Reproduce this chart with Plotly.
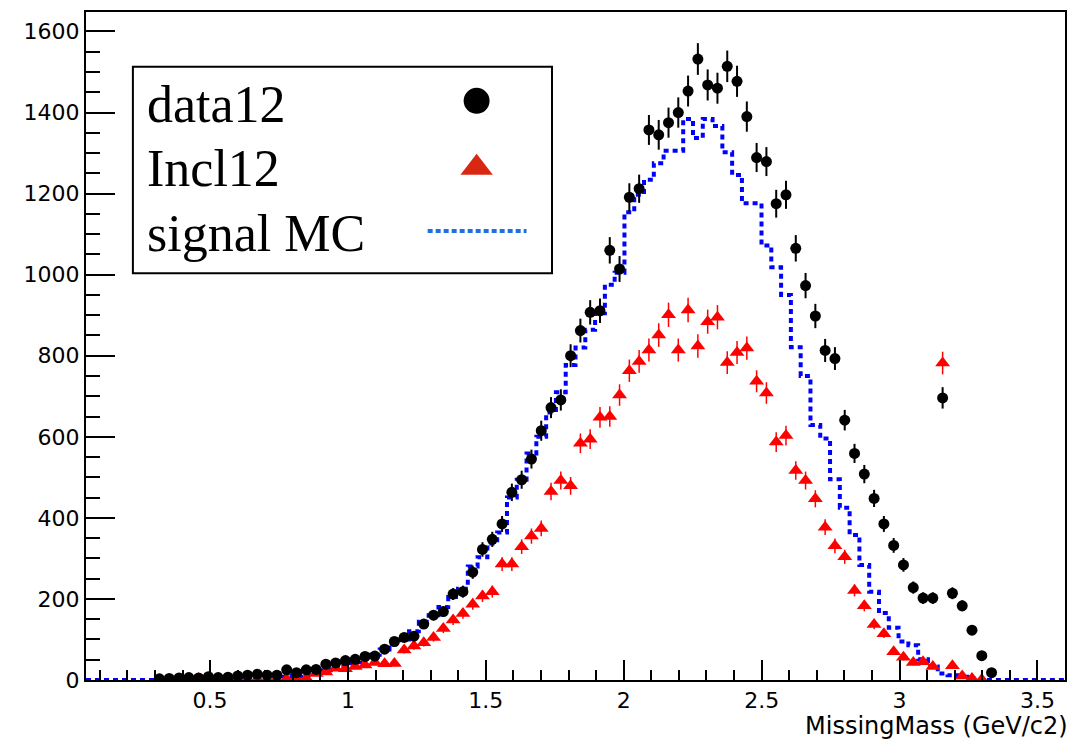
import numpy as np
import plotly.graph_objects as go

# Histogram binning: 100 bins over the missing-mass range
n_bins = 100
x_min, x_max = 0.05, 3.6
y_max = 1648

# data12 bin contents (None = empty bin)
data12 = [None] * 7 + [
    3, 4, 5, 6, 5, 8, 6, 7, 10, 12,            # 7-16
    14, 12, 12, 25, 18, 25, 26, 39, 42, 48,    # 17-26
    51, 58, 59, 76, 95, 105, 108, 138, 160, 169,   # 27-36
    212, 218, 266, 322, 347, 385, 463, 494, 545, 615,  # 37-46
    672, 691, 800, 862, 907, 911, 1060, 1014, 1191, 1212,  # 47-56
    1357, 1345, 1375, 1400, 1453, 1532, 1468, 1460, 1514, 1477,  # 57-66
    1390, 1289, 1279, 1175, 1197, 1065, 973, 898, 813, 793,  # 67-76
    641, 559, 508, 448, 385, 332, 284, 228, 202, 202,  # 77-86
    696, 214, 183, 123, 60, 18,                # 87-92
] + [None] * 7

# Incl12 bin contents
incl12 = [None] * 9 + [
    2, 3, 3, 3, 2, 1, 2, 2, 2, 2,              # 9-18
    2, 2, 3, 4, 16, 20, 29, 28, 33, 37,        # 19-28
    43, 40, 41, 74, 84, 92, 105, 127, 148, 164,  # 29-38
    187, 207, 218, 286, 286, 329, 355, 374, 465, 492,  # 39-48
    479, 584, 594, 648, 650, 703, 763, 786, 814, 851,  # 49-58
    901, 814, 913, 824, 884, 895, 783, 808, 819, 737,  # 59-68
    708, 587, 603, 517, 492, 447, 377, 331, 304, 221,  # 69-78
    183, 137, 114, 70, 56, 43, 45, 33, 782, 35,  # 79-88
    10, 4, 1,                                   # 89-91
] + [None] * 8

# signal MC bin contents
signal_mc = [0] * 15 + [
    1, 2, 3, 4, 5, 8, 10, 13, 18, 24,          # 15-24
    30, 36, 44, 52, 62, 75, 88, 100, 120, 144,  # 25-34
    160, 180, 205, 225, 280, 303, 337, 364, 450, 494,  # 35-44
    559, 600, 660, 710, 777, 820, 864, 905, 975, 1005,  # 45-54
    1154, 1197, 1234, 1275, 1306, 1306, 1384, 1337, 1384, 1367,  # 55-64
    1302, 1246, 1176, 1176, 1072, 1018, 950, 821, 750, 629,  # 65-74
    596, 495, 425, 358, 284, 218, 165, 129, 95, 86,  # 75-84
    51, 33, 16, 12, 8, 4,                       # 85-90
] + [0] * 9

x_tick_vals = [0.5, 1, 1.5, 2, 2.5, 3, 3.5]
x_tick_text = ["0.5", "1", "1.5", "2", "2.5", "3", "3.5"]
y_tick_vals = [0, 200, 400, 600, 800, 1000, 1200, 1400, 1600]
y_tick_text = [str(v) for v in y_tick_vals]

legend_labels = ["data12", "Incl12", "signal MC"]

edges = np.linspace(x_min, x_max, n_bins + 1)
centers = 0.5 * (edges[:-1] + edges[1:])


def poisson_err(vals):
    return [None if v is None else float(np.sqrt(v)) for v in vals]


fig = go.Figure()

# signal MC as a dotted step histogram
fig.add_trace(go.Scatter(
    x=edges, y=list(signal_mc) + [signal_mc[-1]],
    mode="lines", line=dict(color="#0000ff", width=4, dash="5px,4px", shape="hv"),
    hoverinfo="skip", showlegend=False,
))

# Incl12 triangles with error bars
fig.add_trace(go.Scatter(
    x=centers, y=incl12, mode="markers",
    marker=dict(symbol="triangle-up", size=13, color="#ff0000"),
    error_y=dict(type="data", array=poisson_err(incl12), color="#ff0000",
                 thickness=1.5, width=0),
    showlegend=False,
))

# data12 points with error bars
fig.add_trace(go.Scatter(
    x=centers, y=data12, mode="markers",
    marker=dict(symbol="circle", size=11, color="black"),
    error_y=dict(type="data", array=poisson_err(data12), color="black",
                 thickness=2, width=0),
    showlegend=False,
))

# Legend symbols on an overlay axis spanning the frame (0..1 both ways)
leg_x = [0.399, 0.399]
leg_y = [0.867, 0.767]
fig.add_trace(go.Scatter(
    x=[leg_x[0]], y=[leg_y[0]], xaxis="x2", yaxis="y2", mode="markers",
    marker=dict(symbol="circle", size=26, color="black"),
    hoverinfo="skip", showlegend=False,
))
fig.add_trace(go.Scatter(
    x=[leg_x[1]], y=[leg_y[1]], xaxis="x2", yaxis="y2", mode="markers",
    marker=dict(symbol="triangle-up", size=28, color="#d82812"),
    hoverinfo="skip", showlegend=False,
))
fig.add_trace(go.Scatter(
    x=[0.349, 0.450], y=[0.672, 0.672], xaxis="x2", yaxis="y2", mode="lines",
    line=dict(color="#1f6fe0", width=4, dash="5px,3px"),
    hoverinfo="skip", showlegend=False,
))

fig.add_shape(type="rect", xref="paper", yref="paper",
              x0=0.0479, x1=0.476, y0=0.609, y1=0.918,
              line=dict(color="black", width=2), fillcolor="rgba(0,0,0,0)")

for label, yy in zip(legend_labels, [0.862, 0.765, 0.668]):
    fig.add_annotation(text=label, xref="paper", yref="paper", x=0.060, y=yy,
                       xanchor="left", yanchor="middle", showarrow=False,
                       font=dict(family="Liberation Serif", size=52, color="black"))

# x-axis title, right-aligned under the frame
fig.add_annotation(text="MissingMass (GeV/c2)", xref="paper", yref="paper",
                   x=1.004, y=-0.0915, xanchor="right", yanchor="bottom",
                   showarrow=False, borderpad=0,
                   font=dict(family="DejaVu Sans", size=24, color="black"))

tick_font = dict(family="DejaVu Sans", size=22, color="black")

fig.update_layout(
    width=1069, height=742,
    margin=dict(l=86, r=2, t=12, b=62),
    paper_bgcolor="white", plot_bgcolor="white",
    xaxis=dict(
        range=[x_min, x_max], showgrid=False, zeroline=False,
        showline=True, mirror=True, linecolor="black", linewidth=2,
        ticks="inside", ticklen=20, tickwidth=1.5, tickcolor="black",
        tickvals=x_tick_vals, ticktext=x_tick_text, tickfont=tick_font,
        minor=dict(dtick=0.1, tick0=0, ticks="inside", ticklen=10,
                   tickwidth=1.5, tickcolor="black", showgrid=False),
    ),
    yaxis=dict(
        range=[0, y_max], showgrid=False, zeroline=False,
        showline=True, mirror=True, linecolor="black", linewidth=2,
        ticks="inside", ticklen=29, tickwidth=1.5, tickcolor="black",
        tickvals=y_tick_vals, ticktext=y_tick_text, tickfont=tick_font,
        minor=dict(dtick=50, tick0=0, ticks="inside", ticklen=14,
                   tickwidth=1.5, tickcolor="black", showgrid=False),
    ),
    xaxis2=dict(overlaying="x", range=[0, 1], visible=False),
    yaxis2=dict(overlaying="y", range=[0, 1], visible=False),
)

fig.write_html("out.html")
